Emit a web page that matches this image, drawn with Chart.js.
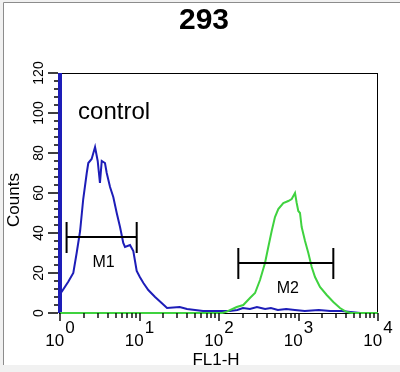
<!DOCTYPE html>
<html>
<head>
<meta charset="utf-8">
<script src="https://cdn.jsdelivr.net/npm/chart.js@4/dist/chart.umd.min.js"></script>
<style>
  html, body { margin: 0; padding: 0; background: #fff; }
</style>
</head>
<body>
<canvas id="histo" width="400" height="372"></canvas>
<script>
// FL1-H channel positions (log scale) and counts
const controlX = [1, 1, 1, 1.05, 1.27, 1.47, 1.62, 1.79, 1.96, 2.17, 2.27, 2.5, 2.76, 2.98, 3.18, 3.35, 3.68, 3.87, 4.26, 4.68, 5.17, 5.69, 6.25, 6.57, 7.6, 8.36, 8.78, 9.22, 10.1, 11.2, 12.9, 15.7, 19, 22.2, 32, 39.6, 63, 137, 170, 200, 245, 300, 380, 450, 550, 700, 900, 1200, 1800, 2500, 3500, 4500, 6000, 10000];
const controlY = [0, 120, 10, 10.6, 15.6, 20, 30, 41, 57, 70, 75, 77, 83, 76, 65, 76, 75, 70, 63, 58, 50, 43, 35, 33, 34, 31, 26, 21, 18, 15, 11.5, 8, 5, 2.5, 3, 2, 1, 1, 1.5, 2.5, 2, 3, 2, 2.5, 1.5, 2, 1.5, 1, 1.5, 1, 1, 0.5, 0, 0];
const sampleX = [1, 110, 125, 167, 202, 245, 284, 328, 379, 417, 460, 506, 557, 644, 744, 821, 904, 949, 994, 1044, 1096, 1208, 1329, 1466, 1614, 1862, 2264, 2742, 3325, 4036, 4600, 10000];
const sampleY = [0, 0, 0.7, 3, 4, 7.5, 10, 16.5, 25, 33, 41, 48, 52, 55, 56, 57, 60, 55, 51, 50, 43, 36, 30, 23, 18, 13, 9, 5.5, 2.5, 0.5, 0, 0];

const xTickExps = [0, 1, 2, 3, 4];
const yTickValues = [0, 20, 40, 60, 80, 100, 120];

const markerNames = ["M1", "M2"];
const markerStart = [1.21, 175];
const markerEnd = [9.22, 2742];
const markerLevel = [38, 25];

const titleText = "293";
const noteText = "control";
const noteX = 1.69;
const noteY = 97;

const FONT = "'Liberation Sans', Arial, sans-serif";

function pts(xs, ys) {
  return xs.map((x, i) => ({ x: x, y: ys[i] }));
}

const decor = {
  id: "decor",
  beforeDraw(chart) {
    const ctx = chart.ctx;
    ctx.save();
    ctx.fillStyle = "#fff";
    ctx.fillRect(0, 0, chart.width, chart.height);
    ctx.fillStyle = "#f1f1f1";
    ctx.fillRect(0, 365, chart.width, chart.height - 365);
    ctx.fillRect(0, 0, 3, 365);
    ctx.fillRect(0, 0, chart.width, 2);
    ctx.strokeStyle = "#8c8c8c";
    ctx.lineWidth = 1;
    ctx.beginPath();
    ctx.moveTo(3.5, 365);
    ctx.lineTo(3.5, 2.5);
    ctx.lineTo(chart.width, 2.5);
    ctx.stroke();
    ctx.restore();
  },
  beforeDatasetsDraw(chart) {
    const ctx = chart.ctx;
    const a = chart.chartArea;
    ctx.save();
    ctx.strokeStyle = "#000";
    ctx.lineWidth = 1;
    ctx.strokeRect(a.left - 0.5, a.top + 0.5, a.right - a.left, a.bottom - a.top);
    ctx.restore();
  },
  afterDatasetsDraw(chart) {
    const ctx = chart.ctx;
    const a = chart.chartArea;
    const xs = chart.scales.x;
    const ys = chart.scales.y;
    ctx.save();
    ctx.strokeStyle = "#000";
    ctx.fillStyle = "#000";
    ctx.lineWidth = 1.4;

    // x ticks
    ctx.beginPath();
    for (let e = 0; e < 4; e++) {
      for (let m = 1; m < 10; m++) {
        const px = Math.round(xs.getPixelForValue(m * Math.pow(10, e)));
        const len = m === 1 ? 8 : 5;
        ctx.moveTo(px, a.bottom);
        ctx.lineTo(px, a.bottom + len);
      }
    }
    const pEnd = Math.round(xs.getPixelForValue(10000));
    ctx.moveTo(pEnd, a.bottom);
    ctx.lineTo(pEnd, a.bottom + 8);
    // y ticks
    for (let v = 0; v <= 120; v += 4) {
      const py = Math.round(ys.getPixelForValue(v));
      const len = v % 20 === 0 ? 12 : 6;
      ctx.moveTo(a.left - 2, py);
      ctx.lineTo(a.left - len, py);
    }
    ctx.stroke();

    // x tick labels 10^n
    xTickExps.forEach((e) => {
      const px = xs.getPixelForValue(Math.pow(10, e));
      ctx.font = "17px " + FONT;
      const w1 = ctx.measureText("10").width;
      const w2 = ctx.measureText(String(e)).width;
      const start = px - (w1 + w2 + 1) / 2;
      ctx.textAlign = "left";
      ctx.textBaseline = "alphabetic";
      ctx.fillText("10", start, 346);
      ctx.fillText(String(e), start + w1 + 1, 333);
    });

    // y tick labels, rotated
    ctx.font = "14px " + FONT;
    yTickValues.forEach((v) => {
      const py = ys.getPixelForValue(v);
      ctx.save();
      ctx.translate(43, py);
      ctx.rotate(-Math.PI / 2);
      ctx.textAlign = "center";
      ctx.textBaseline = "alphabetic";
      ctx.fillText(String(v), 0, 0);
      ctx.restore();
    });

    // axis titles
    ctx.font = "17px " + FONT;
    ctx.textAlign = "center";
    ctx.fillText("FL1-H", 216, 365);
    ctx.save();
    ctx.translate(19, 200);
    ctx.rotate(-Math.PI / 2);
    ctx.fillText("Counts", 0, 0);
    ctx.restore();

    // title
    ctx.font = "bold 30px " + FONT;
    ctx.fillText(titleText, 204, 29);

    // note
    ctx.font = "24px " + FONT;
    ctx.textAlign = "left";
    ctx.fillText(noteText, xs.getPixelForValue(noteX), ys.getPixelForValue(noteY));

    // markers
    ctx.lineWidth = 2;
    markerNames.forEach((name, i) => {
      const x1 = xs.getPixelForValue(markerStart[i]);
      const x2 = xs.getPixelForValue(markerEnd[i]);
      const y = ys.getPixelForValue(markerLevel[i]);
      ctx.beginPath();
      ctx.moveTo(x1, y);
      ctx.lineTo(x2, y);
      ctx.moveTo(x1, y - 15);
      ctx.lineTo(x1, y + 16);
      ctx.moveTo(x2, y - 15);
      ctx.lineTo(x2, y + 16);
      ctx.stroke();
      ctx.font = "16px " + FONT;
      ctx.textAlign = "center";
      ctx.fillText(name, (x1 + x2) / 2 + 2, y + 30);
    });
    ctx.restore();
  },
};

new Chart(document.getElementById("histo"), {
  type: "scatter",
  data: {
    datasets: [
      {
        label: "sample",
        data: pts(sampleX, sampleY),
        showLine: true,
        borderColor: "#3fd23f",
        borderWidth: 2,
        pointRadius: 0,
        tension: 0,
        clip: 3,
      },
      {
        label: "control",
        data: pts(controlX, controlY),
        showLine: true,
        borderColor: "#1d1db8",
        borderWidth: 2,
        pointRadius: 0,
        tension: 0,
        clip: 3,
        segment: {
          borderWidth: (c) => (c.p0DataIndex < 2 ? 4 : 2),
        },
      },
    ],
  },
  options: {
    responsive: false,
    animation: false,
    layout: { padding: { left: 60, right: 22, top: 73, bottom: 59 } },
    scales: {
      x: { type: "logarithmic", min: 1, max: 10000, display: false },
      y: { type: "linear", min: 0, max: 120, display: false },
    },
    plugins: { legend: { display: false }, tooltip: { enabled: false } },
  },
  plugins: [decor],
});
</script>
</body>
</html>
